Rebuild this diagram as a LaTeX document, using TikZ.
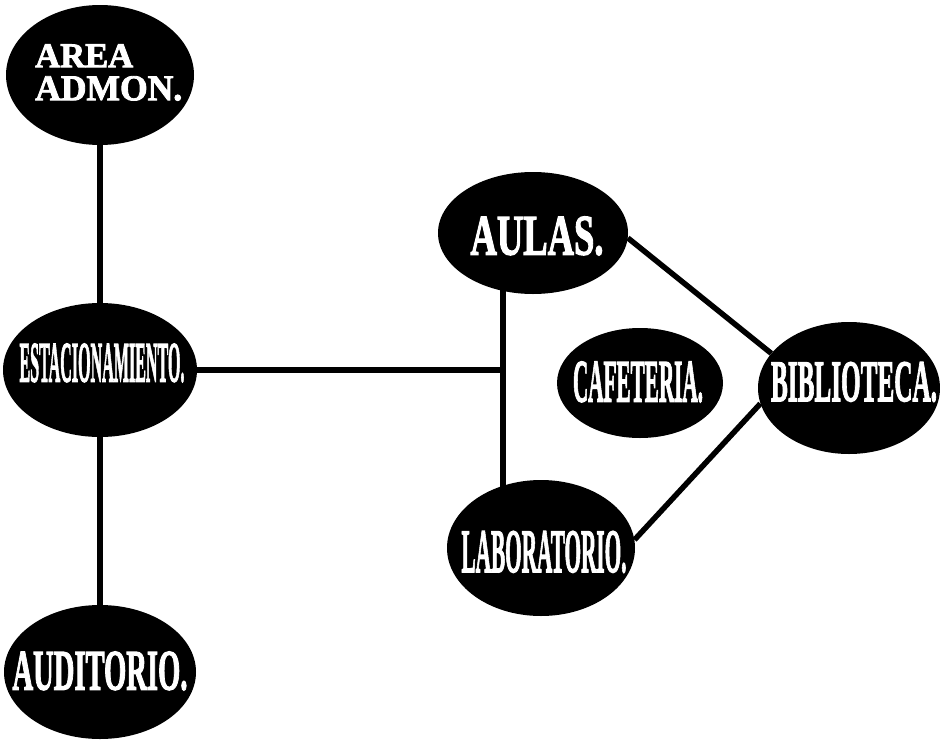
\documentclass[tikz,border=0pt]{standalone}
\usepackage{fontspec}
\setmainfont{Liberation Serif}
\newfontfamily\heavyfont[BoldFeatures={FakeBold=2.4}]{Liberation Serif}
\usetikzlibrary{shapes.geometric,backgrounds}
\tikzset{
  blob/.style={ellipse, fill=black, draw=none, inner sep=0pt},
  lbl/.style={text=white, inner sep=0pt, font=\heavyfont\bfseries},
  link/.style={line width=5.5pt, draw=black},
}
\begin{document}
\begin{tikzpicture}[x=1pt,y=-1pt]
\useasboundingbox (0,0) rectangle (940,742);
% ellipses
\node[blob, minimum width=188pt, minimum height=140pt] (area) at (100,75) {};
\node[blob, minimum width=194pt, minimum height=134pt] (est) at (100,370) {};
\node[blob, minimum width=192pt, minimum height=134pt] (aud) at (100,672) {};
\node[blob, minimum width=190pt, minimum height=122pt] (aulas) at (533,233) {};
\node[blob, minimum width=166pt, minimum height=110pt] (cafe) at (640,383) {};
\node[blob, minimum width=182pt, minimum height=132pt] (biblio) at (849,388) {};
\node[blob, minimum width=188pt, minimum height=136pt] (lab) at (541,548) {};
% labels
\node[lbl, align=left, anchor=north west] (t-area) at (35,44)
  {\resizebox{98pt}{23pt}{AREA}\\[8pt]\resizebox{147pt}{24pt}{ADMON.}};
\node[lbl] (t-est) at (102,363) {\resizebox{165pt}{38pt}{ESTACIONAMIENTO.}};
\node[lbl] (t-aud) at (100,671) {\resizebox{175pt}{38pt}{AUDITORIO.}};
\node[lbl] (t-aulas) at (537,236) {\resizebox{133pt}{38pt}{AULAS.}};
\node[lbl] (t-cafe) at (638,382) {\resizebox{130pt}{40pt}{CAFETERIA.}};
\node[lbl] (t-biblio) at (854,382) {\resizebox{166pt}{39pt}{BIBLIOTECA.}};
\node[lbl] (t-lab) at (544,552) {\resizebox{165pt}{41pt}{LABORATORIO.}};
\coordinate (j) at (503,370);
% connectors
\begin{scope}[on background layer]
\draw[link] (area.center) -- (est.center);
\draw[link] (est.center) -- (aud.center);
\draw[link] (est.center) -- (j);
\draw[link] (j |- aulas.center) -- (j |- lab.center);
\draw[link] (aulas.-3) -- (biblio.156);
\draw[link] (lab.5) -- (biblio.190);
\end{scope}
\end{tikzpicture}
\end{document}
